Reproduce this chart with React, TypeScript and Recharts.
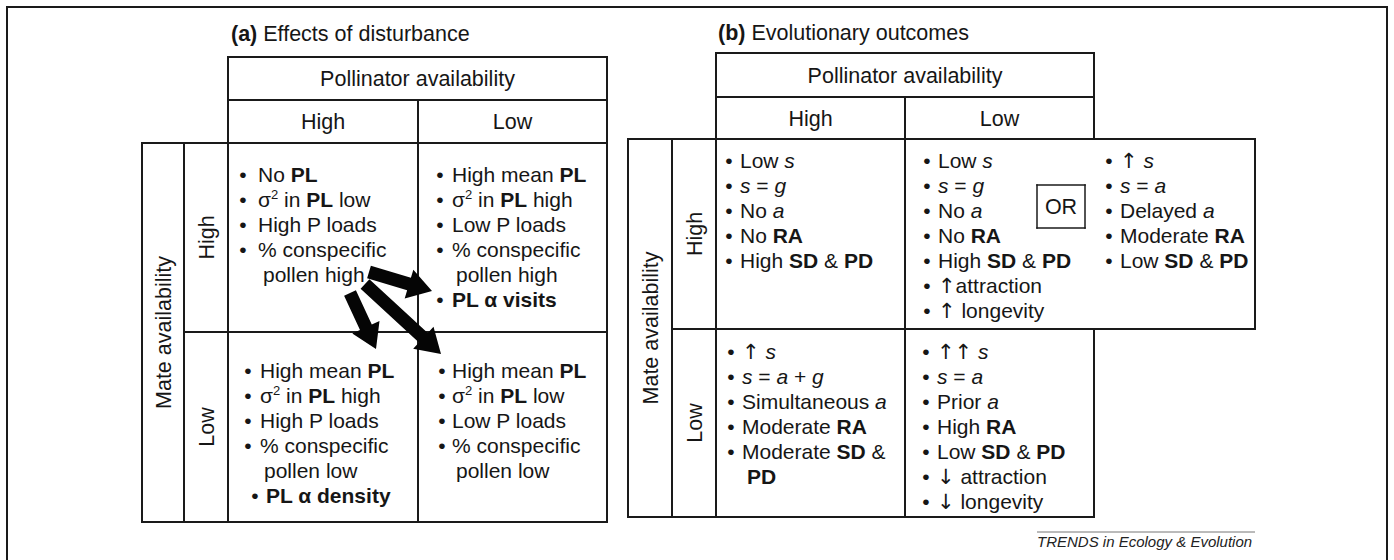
import React from 'react';
import { ComposedChart, XAxis, YAxis, Scatter, ReferenceLine } from 'recharts';

// ---------------- content ----------------
const panelTitles = ['**(a)** Effects of disturbance', '**(b)** Evolutionary outcomes'];
const columnHeader = 'Pollinator availability';
const rowHeader = 'Mate availability';
const levels = ['High', 'Low'];

const aHighHigh = ['No **PL**', 'σ^2^ in **PL** low', 'High P loads', '% conspecific', '~pollen high'];
const aHighLow = ['High mean **PL**', 'σ^2^ in **PL** high', 'Low P loads', '% conspecific', '~pollen high', '**PL α visits**'];
const aLowHigh = ['High mean **PL**', 'σ^2^ in **PL** high', 'High P loads', '% conspecific', '~pollen low', '>**PL α density**'];
const aLowLow = ['High mean **PL**', 'σ^2^ in **PL** low', 'Low P loads', '% conspecific', '~pollen low'];

const bHighHigh = ['Low _s_', '_s_ = _g_', 'No _a_', 'No **RA**', 'High **SD** & **PD**'];
const bHighLow = ['Low _s_', '_s_ = _g_', 'No _a_', 'No **RA**', 'High **SD** & **PD**', '↑attraction', '↑ longevity'];
const bHighAlt = ['↑ _s_', '_s_ = _a_', 'Delayed _a_', 'Moderate **RA**', 'Low **SD** & **PD**'];
const bLowHigh = ['↑ _s_', '_s_ = _a_ + _g_', 'Simultaneous _a_', 'Moderate **RA**', 'Moderate **SD** &', '~**PD**'];
const bLowLow = ['↑↑ _s_', '_s_ = _a_', 'Prior _a_', 'High **RA**', 'Low **SD** & **PD**', '↓ attraction', '↓ longevity'];

const orLabel = 'OR';
const credit = 'TRENDS in Ecology & Evolution';

// arrows in panel (a): tail -> tip (diagram coordinates)
const arrowTails = [
  { x: 369, y: 272 },
  { x: 350, y: 293 },
  { x: 365, y: 284 },
];
const arrowTips = [
  { x: 432, y: 291 },
  { x: 376, y: 349 },
  { x: 441, y: 354 },
];

// ---------------- layout ----------------
const W = 1394;
const H = 560;
const FONT = '"Liberation Sans", Arial, Helvetica, sans-serif';
const ARROW_FONT = '"DejaVu Sans", "Liberation Sans", sans-serif';
const INK = '#161616';
const LINE = 25;

type Seg = [number, number, number, number, number?];
const gridSegments: Seg[] = [
  // outer frame
  [7, 7, 1387, 7], [7, 7, 7, 562], [1387, 7, 1387, 562],
  // panel a
  [228, 57, 607, 57], [228, 100, 607, 100], [228, 57, 228, 522], [607, 57, 607, 522],
  [142, 143, 607, 143], [142, 522, 607, 522], [142, 143, 142, 522], [184, 143, 184, 522],
  [418, 100, 418, 522], [184, 332, 607, 332],
  // panel b
  [716, 53, 1094, 53], [716, 97, 1094, 97], [716, 53, 716, 517], [1094, 53, 1094, 139],
  [905, 97, 905, 517], [628, 139, 1255, 139], [628, 139, 628, 517], [672, 139, 672, 517],
  [1255, 139, 1255, 329], [672, 329, 1255, 329], [628, 517, 1094, 517], [1094, 329, 1094, 517],
  // OR box
  [1037, 185, 1085, 185, 1.5], [1085, 185, 1085, 228, 1.5], [1085, 228, 1037, 228, 1.5], [1037, 228, 1037, 185, 1.5],
];

type TItem = {
  x: number; y: number; text: string; size: number; anchor?: string; rot?: boolean; italic?: boolean; color?: string;
};

const items: TItem[] = [];

function addCell(lines: string[], bulletX: number, textX: number, contX: number, y0: number, size = 21) {
  lines.forEach((ln, i) => {
    const y = y0 + i * LINE;
    if (ln.startsWith('~')) {
      items.push({ x: contX, y, text: ln.slice(1), size });
    } else if (ln.startsWith('>')) {
      items.push({ x: bulletX + 7, y, text: '•', size, anchor: 'middle' });
      items.push({ x: textX + 6, y, text: ln.slice(1), size });
    } else {
      items.push({ x: bulletX, y, text: '•', size, anchor: 'middle' });
      items.push({ x: textX, y, text: ln, size });
    }
  });
}

// titles
items.push({ x: 231, y: 41, text: panelTitles[0], size: 21.5 });
items.push({ x: 718, y: 40, text: panelTitles[1], size: 21.5 });
// panel a headers
items.push({ x: 417.5, y: 86, text: columnHeader, size: 21.5, anchor: 'middle' });
items.push({ x: 323, y: 129, text: levels[0], size: 21.5, anchor: 'middle' });
items.push({ x: 512.5, y: 129, text: levels[1], size: 21.5, anchor: 'middle' });
items.push({ x: 163, y: 332.5, text: rowHeader, size: 21.5, anchor: 'middle', rot: true });
items.push({ x: 206, y: 237.5, text: levels[0], size: 21.5, anchor: 'middle', rot: true });
items.push({ x: 206, y: 427, text: levels[1], size: 21.5, anchor: 'middle', rot: true });
// panel b headers
items.push({ x: 905, y: 83, text: columnHeader, size: 21.5, anchor: 'middle' });
items.push({ x: 810.5, y: 126, text: levels[0], size: 21.5, anchor: 'middle' });
items.push({ x: 999.5, y: 126, text: levels[1], size: 21.5, anchor: 'middle' });
items.push({ x: 650, y: 328, text: rowHeader, size: 21.5, anchor: 'middle', rot: true });
items.push({ x: 694, y: 234, text: levels[0], size: 21.5, anchor: 'middle', rot: true });
items.push({ x: 694, y: 423, text: levels[1], size: 21.5, anchor: 'middle', rot: true });
// cells a
addCell(aHighHigh, 243, 258, 263, 182);
addCell(aHighLow, 440, 452, 456, 182);
addCell(aLowHigh, 248, 260, 264, 378);
addCell(aLowLow, 442, 452, 456, 378);
// cells b
addCell(bHighHigh, 729, 740, 746, 168);
addCell(bHighLow, 927, 938, 944, 168);
addCell(bHighAlt, 1109, 1120, 1126, 168);
addCell(bLowHigh, 731, 742, 747, 359);
addCell(bLowLow, 926, 937, 943, 359);
// OR and credit
items.push({ x: 1061, y: 214, text: orLabel, size: 21.5, anchor: 'middle' });
items.push({ x: 1037, y: 547, text: credit, size: 15, italic: true, color: '#222' });

const arrowData = arrowTails.map((t, i) => ({ x: t.x, y: t.y, tipX: arrowTips[i].x, tipY: arrowTips[i].y }));

// ---------------- rendering helpers ----------------
type Seg2 = { t: string; b: boolean; i: boolean; sup: boolean };
function parseRich(s: string): Seg2[] {
  const out: Seg2[] = [];
  let bold = false, ital = false, sup = false, buf = '';
  const push = () => {
    if (buf) { out.push({ t: buf, b: bold, i: ital, sup }); buf = ''; }
  };
  let k = 0;
  while (k < s.length) {
    if (s.startsWith('**', k)) { push(); bold = !bold; k += 2; continue; }
    if (s[k] === '_') { push(); ital = !ital; k += 1; continue; }
    if (s[k] === '^') { push(); sup = !sup; k += 1; continue; }
    buf += s[k]; k += 1;
  }
  push();
  return out;
}

// split a run so that arrow glyphs use a font with full-size arrows
function splitArrows(t: string): { t: string; arrow: boolean }[] {
  const parts: { t: string; arrow: boolean }[] = [];
  let cur = '';
  let curArrow = false;
  for (const ch of t) {
    const isA = ch === '↑' || ch === '↓';
    if (cur && isA !== curArrow) { parts.push({ t: cur, arrow: curArrow }); cur = ''; }
    curArrow = isA;
    cur += ch;
  }
  if (cur) parts.push({ t: cur, arrow: curArrow });
  return parts;
}

function renderRich(s: string, size: number, baseItalic: boolean) {
  const segs = parseRich(s);
  const nodes: React.ReactNode[] = [];
  let pending = 0;
  segs.forEach((sg, k) => {
    if (sg.sup) {
      nodes.push(
        <tspan key={k} dy={-size * 0.38} fontSize={size * 0.62} fontWeight={sg.b ? 'bold' : 'normal'}>{sg.t}</tspan>
      );
      pending = size * 0.38;
    } else {
      splitArrows(sg.t).forEach((pt, j) => {
        nodes.push(
          <tspan key={`${k}-${j}`} dy={pending || undefined} fontWeight={sg.b ? 'bold' : 'normal'}
            fontFamily={pt.arrow ? ARROW_FONT : undefined}
            fontStyle={sg.i || baseItalic ? 'italic' : 'normal'}>{pt.t}</tspan>
        );
        pending = 0;
      });
    }
  });
  return nodes;
}

const TextShape = (props: any) => {
  const { cx, cy, payload } = props;
  const p = payload as TItem;
  if (cx == null || cy == null) return <g />;
  const common = {
    fontFamily: FONT,
    fontSize: p.size,
    fill: p.color || INK,
    textAnchor: (p.anchor || 'start') as any,
    style: { whiteSpace: 'pre' as const },
  };
  if (p.rot) {
    return (
      <text {...common} x={cx} y={cy} dy="0.36em" transform={`rotate(-90 ${cx} ${cy})`}>
        {renderRich(p.text, p.size, !!p.italic)}
      </text>
    );
  }
  return (
    <text {...common} x={cx} y={cy}>
      {renderRich(p.text, p.size, !!p.italic)}
    </text>
  );
};

const ArrowShape = (props: any) => {
  const { cx, cy, payload } = props;
  if (cx == null || cy == null) return <g />;
  const dx = payload.tipX - payload.x;
  const dy = payload.tipY - payload.y;
  const tx = cx + dx;
  const ty = cy + dy;
  const len = Math.hypot(dx, dy);
  const ux = dx / len, uy = dy / len;
  const nx = -uy, ny = ux;
  const w = 6.5, hw = 15, hl = 24;
  const bx = tx - ux * hl, by = ty - uy * hl;
  const pts = [
    [cx + nx * w, cy + ny * w],
    [bx + nx * w, by + ny * w],
    [bx + nx * hw, by + ny * hw],
    [tx, ty],
    [bx - nx * hw, by - ny * hw],
    [bx - nx * w, by - ny * w],
    [cx - nx * w, cy - ny * w],
  ].map((q) => q.join(',')).join(' ');
  return <polygon points={pts} fill="#050505" />;
};

export default function App() {
  return (
    <div style={{ position: 'absolute', left: 0, top: 0, width: W, height: H, background: '#ffffff' }}>
      <ComposedChart width={W} height={H} margin={{ top: 0, right: 0, bottom: 0, left: 0 }}>
        <XAxis type="number" dataKey="x" domain={[0, W]} hide allowDataOverflow />
        <YAxis type="number" dataKey="y" domain={[0, H]} reversed hide allowDataOverflow />
        {gridSegments.map((s, i) => (
          <ReferenceLine
            key={`g${i}`}
            segment={[{ x: s[0], y: s[1] }, { x: s[2], y: s[3] }]}
            stroke="#1a1a1a"
            strokeWidth={s[4] ?? 2}
            strokeLinecap="square"
            ifOverflow="visible"
          />
        ))}
        <ReferenceLine
          segment={[{ x: 1037, y: 532 }, { x: 1255, y: 532 }]}
          stroke="#777"
          strokeWidth={1}
          ifOverflow="visible"
        />
        <Scatter data={items} shape={TextShape} isAnimationActive={false} />
        <Scatter data={arrowData} shape={ArrowShape} isAnimationActive={false} />
      </ComposedChart>
    </div>
  );
}
